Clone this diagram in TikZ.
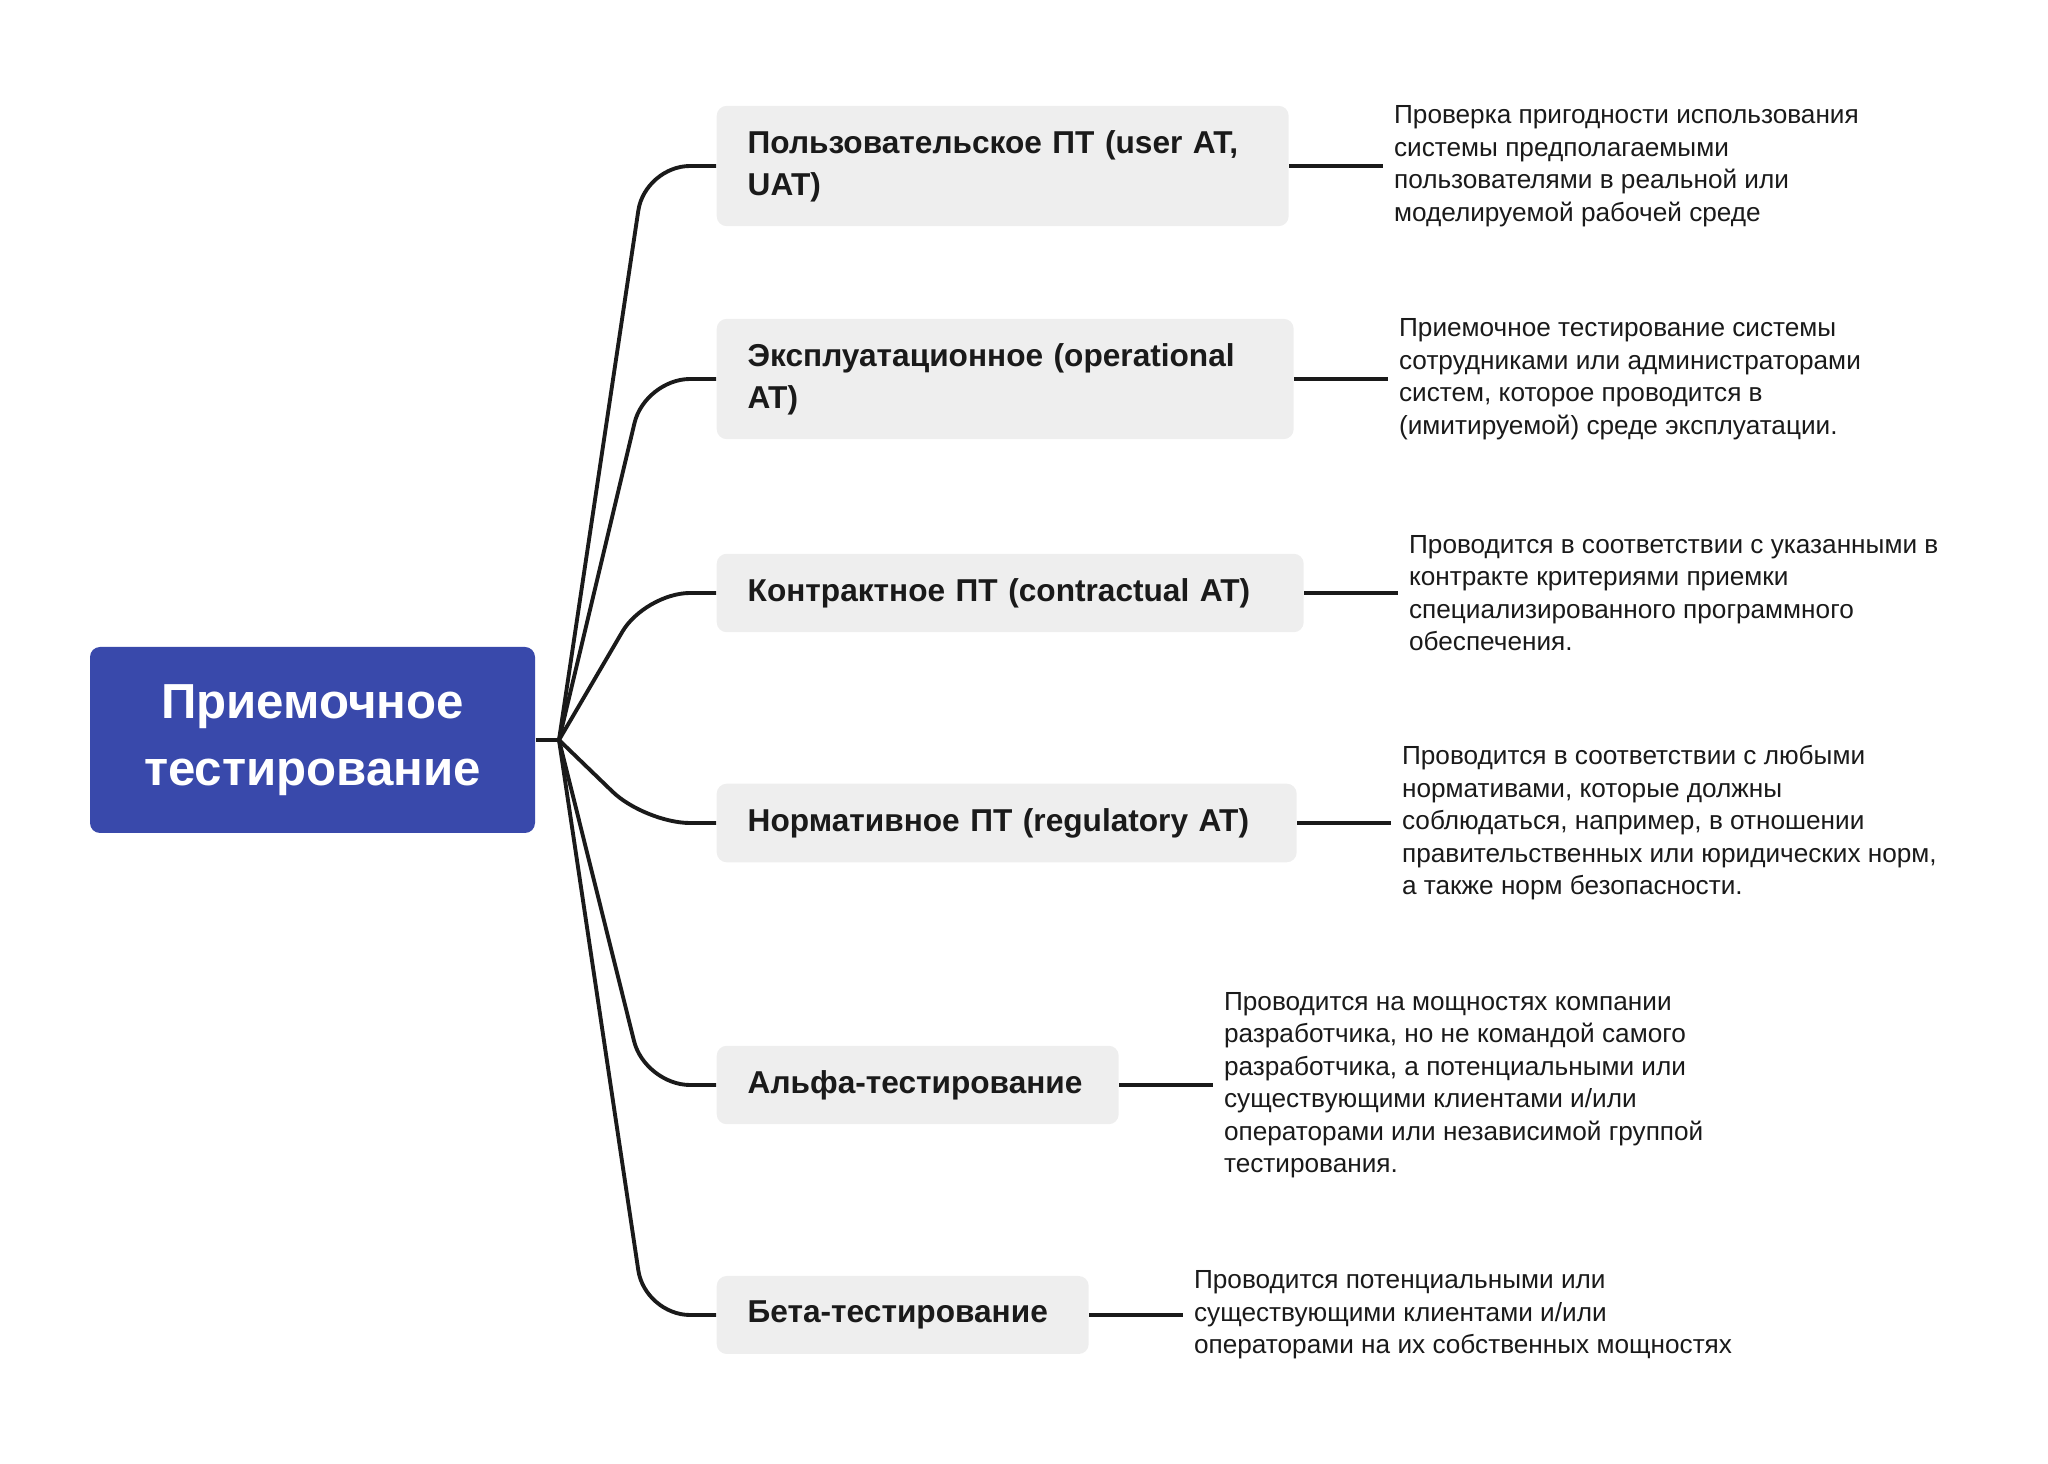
\documentclass[tikz,border=0pt]{standalone}
\usepackage{fontspec}
\setmainfont{Liberation Sans}
\usetikzlibrary{positioning}
\definecolor{rootblue}{RGB}{57,73,171}
\definecolor{boxgray}{RGB}{238,238,238}
\definecolor{inkblack}{RGB}{26,26,26}

\begin{document}
\begin{tikzpicture}[
    every node/.style={align=left, inner sep=0pt, text=inkblack},
    rootNode/.style={rectangle, fill=rootblue, rounded corners=0.1cm, minimum width=4.45cm, minimum height=1.86cm, align=center, text=white, font=\fontsize{14}{19}\selectfont\bfseries},
    typeNode/.style={rectangle, fill=boxgray, rounded corners=0.1cm, anchor=west, inner xsep=0.31cm, inner ysep=0.245cm, minimum height=0.78cm, font=\fontsize{9}{11.9}\selectfont\bfseries},
    descNode/.style={inner xsep=0.1cm, font=\fontsize{7.45}{9.25}\selectfont},
    branchLine/.style={draw=inkblack, line width=1.1pt, rounded corners=0.45cm},
    descLine/.style={draw=inkblack, line width=1.1pt}
]
    \path [use as bounding box] (0, 0) rectangle (20.48, -14.64);

    \node [rootNode] (root) at (3.125, -7.40) {Приемочное\\тестирование};
    \coordinate (hub) at (5.59, -7.40);
    \coordinate (bend) at (6.45, 0);

    \node [typeNode, text width=5.10cm] (userAT) at (7.16, -1.66) {Пользовательское ПТ (user AT,\\UAT)};
    \node [typeNode, text width=5.15cm] (operAT) at (7.16, -3.79) {Эксплуатационное (operational\\AT)};
    \node [typeNode, text width=5.25cm] (contrAT) at (7.16, -5.93) {Контрактное ПТ (contractual AT)};
    \node [typeNode, text width=5.18cm] (regulAT) at (7.16, -8.23) {Нормативное ПТ (regulatory AT)};
    \node [typeNode, text width=3.40cm] (alphaT) at (7.16, -10.85) {Альфа-тестирование};
    \node [typeNode, text width=3.10cm] (betaT) at (7.16, -13.15) {Бета-тестирование};

    \node [descNode, right=0.94cm of userAT] (userDesc) {Проверка пригодности использования\\системы предполагаемыми\\пользователями в реальной или\\моделируемой рабочей среде};
    \node [descNode, right=0.94cm of operAT] (operDesc) {Приемочное тестирование системы\\сотрудниками или администраторами\\систем, которое проводится в\\(имитируемой) среде эксплуатации.};
    \node [descNode, right=0.94cm of contrAT] (contrDesc) {Проводится в соответствии с указанными в\\контракте критериями приемки\\специализированного программного\\обеспечения.};
    \node [descNode, right=0.94cm of regulAT] (regulDesc) {Проводится в соответствии с любыми\\нормативами, которые должны\\соблюдаться, например, в отношении\\правительственных или юридических норм,\\а также норм безопасности.};
    \node [descNode, right=0.94cm of alphaT] (alphaDesc) {Проводится на мощностях компании\\разработчика, но не командой самого\\разработчика, а потенциальными или\\существующими клиентами и/или\\операторами или независимой группой\\тестирования.};
    \node [descNode, right=0.94cm of betaT] (betaDesc) {Проводится потенциальными или\\существующими клиентами и/или\\операторами на их собственных мощностях};

    \path [descLine] (root.east) -- (hub);

    \path [branchLine] (hub) -- (bend |- userAT.west) -- (userAT.west);
    \path [branchLine] (hub) -- (bend |- operAT.west) -- (operAT.west);
    \path [branchLine] (hub) -- (bend |- contrAT.west) -- (contrAT.west);
    \path [branchLine] (hub) -- (bend |- regulAT.west) -- (regulAT.west);
    \path [branchLine] (hub) -- (bend |- alphaT.west) -- (alphaT.west);
    \path [branchLine] (hub) -- (bend |- betaT.west) -- (betaT.west);

    \path [descLine] (userAT) -- (userDesc);
    \path [descLine] (operAT) -- (operDesc);
    \path [descLine] (contrAT) -- (contrDesc);
    \path [descLine] (regulAT) -- (regulDesc);
    \path [descLine] (alphaT) -- (alphaDesc);
    \path [descLine] (betaT) -- (betaDesc);
\end{tikzpicture}
\end{document}
